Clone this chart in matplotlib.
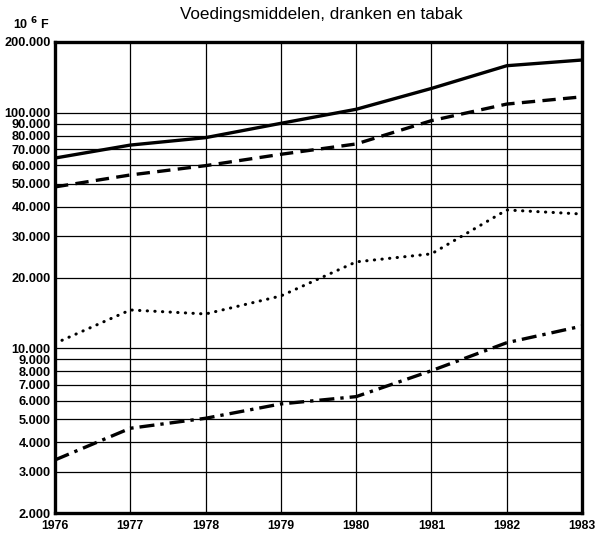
import matplotlib
matplotlib.use("Agg")
import matplotlib.pyplot as plt
from matplotlib.ticker import FixedLocator, NullLocator

plt.rcParams['font.family'] = ['Liberation Sans', 'DejaVu Sans']

years = [1976, 1977, 1978, 1979, 1980, 1981, 1982, 1983]
solid_vals = [64300, 73000, 78500, 90300, 103600, 127000, 158600, 167700]
dashed_vals = [48500, 54500, 59700, 66700, 73800, 92700, 109000, 117000]
dotted_vals = [10500, 14560, 14000, 16700, 23300, 25200, 38700, 37200]
dashdot_vals = [3360, 4580, 5050, 5810, 6240, 8040, 10570, 12440]

ytick_values = [2000, 3000, 4000, 5000, 6000, 7000, 8000, 9000, 10000,
                20000, 30000, 40000, 50000, 60000, 70000, 80000, 90000,
                100000, 200000]
ytick_labels = ["2.000", "3.000", "4.000", "5.000", "6.000", "7.000", "8.000",
                "9.000", "10.000", "20.000", "30.000", "40.000", "50.000",
                "60.000", "70.000", "80.000", "90.000", "100.000", "200.000"]
title = "Voedingsmiddelen, dranken en tabak"
unit_label = "10 $^{\\mathbf{6}}$ F"

fig = plt.figure(figsize=(5.95, 5.38), dpi=100)
ax = fig.add_axes([55/595, 25/538, (582-55)/595, (513-42)/538])
ax.set_yscale('log')
ax.set_xlim(1976, 1983)
ax.set_ylim(2000, 200000)

ax.yaxis.set_major_locator(FixedLocator(ytick_values))
ax.yaxis.set_minor_locator(NullLocator())
ax.set_yticks(ytick_values)
ax.set_yticklabels(ytick_labels)
ax.set_xticks(years)
ax.set_xticklabels([str(y) for y in years])

ax.grid(True, which='major', color='black', linewidth=0.9)
ax.tick_params(axis='y', length=0, labelsize=9.2, pad=3)
ax.tick_params(axis='x', length=0, labelsize=8.8, pad=5)
for lab in ax.get_yticklabels() + ax.get_xticklabels():
    lab.set_fontweight('bold')
for s in ax.spines.values():
    s.set_linewidth(2.4)
    s.set_color('black')

ax.plot(years, solid_vals, color='black', linewidth=2.4, linestyle='-',
        solid_joinstyle='round')
ax.plot(years, dashed_vals, color='black', linewidth=2.4, linestyle=(0, (4, 2.2)))
ax.plot(years, dotted_vals, color='black', linewidth=2.2,
        linestyle=(0, (0.1, 2.4)), dash_capstyle='round')
ax.plot(years, dashdot_vals, color='black', linewidth=2.4,
        linestyle=(0, (4.5, 1.8, 1.0, 1.8)))

fig.text(321/595, 1 - 15/538, title, ha='center', va='center', fontsize=12.3)
fig.text(13/595, 1 - 24/538, unit_label, ha='left', va='center', fontsize=9,
         fontweight='bold')

fig.savefig("out.png", dpi=100)
